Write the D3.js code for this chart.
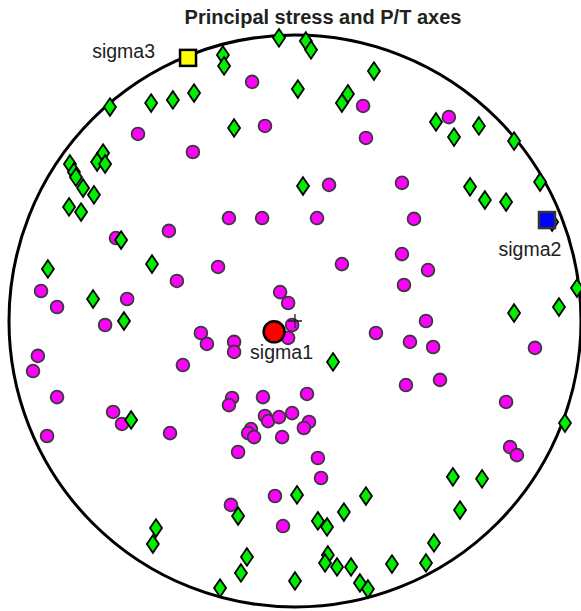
<!DOCTYPE html>
<html>
<head>
<meta charset="utf-8">
<script src="https://cdn.jsdelivr.net/npm/d3@7"></script>
<style>
  body { margin: 0; background: #fff; }
  text { font-family: "Liberation Sans", Arial, Helvetica, sans-serif; }
</style>
</head>
<body>
<div id="chart"></div>
<script>
// positions on the projection net, unit circle (x east, y north)
const pAxes = [
  [-0.150, 0.836], [-0.105, 0.682], [-0.549, 0.654], [-0.357, 0.591], [0.238, 0.752],
  [0.538, 0.713], [0.248, 0.640], [0.119, 0.476], [0.374, 0.483], [-0.231, 0.360],
  [-0.115, 0.360], [-0.441, 0.315], [-0.626, 0.290], [-0.269, 0.189], [-0.413, 0.140],
  [-0.052, 0.101], [-0.024, 0.063], [-0.888, 0.105], [-0.832, 0.049], [-0.587, 0.077],
  [-0.664, -0.014], [-0.329, -0.042], [-0.308, -0.080], [-0.213, -0.073], [-0.213, -0.108],
  [-0.010, -0.014], [-0.024, -0.059], [-0.899, -0.122], [-0.916, -0.175], [-0.392, -0.154],
  [-0.832, -0.266], [-0.220, -0.269], [-0.231, -0.294], [-0.112, -0.266], [-0.636, -0.318],
  [-0.605, -0.360], [-0.867, -0.402], [-0.437, -0.392], [0.077, 0.360], [0.416, 0.357],
  [0.164, 0.199], [0.374, 0.234], [0.465, 0.178], [0.381, 0.126], [0.458, 0.000],
  [0.283, -0.042], [0.402, -0.073], [0.483, -0.091], [0.839, -0.094], [0.388, -0.224],
  [0.507, -0.206], [0.042, -0.255], [0.738, -0.283], [-0.105, -0.332], [-0.094, -0.350],
  [-0.056, -0.336], [-0.010, -0.322], [0.049, -0.353], [0.031, -0.374], [-0.154, -0.378],
  [-0.164, -0.392], [-0.143, -0.406], [-0.045, -0.406], [-0.199, -0.458], [0.080, -0.479],
  [0.091, -0.549], [0.752, -0.441], [0.776, -0.469], [-0.070, -0.612], [-0.224, -0.643],
  [-0.042, -0.717]
];

const tAxes = [
  [-0.056, 0.990], [0.038, 0.979], [0.056, 0.948], [-0.252, 0.930], [-0.248, 0.892],
  [0.276, 0.874], [0.010, 0.811], [0.185, 0.794], [0.164, 0.762], [-0.647, 0.748],
  [-0.503, 0.762], [-0.427, 0.773], [-0.353, 0.797], [-0.213, 0.675], [0.493, 0.696],
  [0.556, 0.643], [0.643, 0.682], [0.766, 0.629], [0.857, 0.486], [0.028, 0.472],
  [0.612, 0.469], [0.664, 0.423], [0.738, 0.416], [-0.787, 0.549], [-0.773, 0.521],
  [-0.766, 0.503], [-0.741, 0.465], [-0.703, 0.441], [-0.790, 0.399], [-0.748, 0.381],
  [-0.671, 0.587], [-0.692, 0.556], [-0.664, 0.549], [-0.608, 0.283], [-0.500, 0.199],
  [-0.864, 0.182], [-0.706, 0.077], [-0.598, 0.000], [0.133, -0.143], [0.766, 0.028],
  [0.923, 0.049], [0.986, 0.115], [0.899, 0.346], [-0.573, -0.346], [0.944, -0.357],
  [0.552, -0.545], [0.654, -0.552], [0.577, -0.661], [0.007, -0.608], [0.248, -0.612],
  [0.171, -0.668], [-0.199, -0.682], [0.080, -0.699], [0.112, -0.720], [0.486, -0.776],
  [0.458, -0.846], [0.339, -0.850], [0.115, -0.818], [0.105, -0.846], [0.147, -0.860],
  [0.196, -0.860], [0.227, -0.916], [0.255, -0.937], [0.000, -0.909], [-0.486, -0.724],
  [-0.497, -0.780], [-0.168, -0.825], [-0.189, -0.881], [-0.262, -0.934]
];

const sigmaNames = ["sigma1", "sigma2", "sigma3"];
const sigmaPos = [[-0.073, -0.038], [0.881, 0.353], [-0.374, 0.920]];
const titleText = "Principal stress and P/T axes";

const W = 581, H = 611;
const cx = 295, cy = 321, R = 286;

const svg = d3.select("#chart").append("svg")
  .attr("width", W)
  .attr("height", H);

const x = d3.scaleLinear().domain([-1, 1]).range([cx - R, cx + R]);
const y = d3.scaleLinear().domain([-1, 1]).range([cy + R, cy - R]);

// primitive circle
svg.append("circle")
  .attr("cx", x(0)).attr("cy", y(0))
  .attr("r", x(1) - x(0))
  .attr("fill", "none")
  .attr("stroke", "#000")
  .attr("stroke-width", 3);

// P axes
svg.append("g").selectAll("circle")
  .data(pAxes)
  .join("circle")
  .attr("cx", d => x(d[0]))
  .attr("cy", d => y(d[1]))
  .attr("r", 6.4)
  .attr("fill", "#ff00ff")
  .attr("stroke", "#3a3a3a")
  .attr("stroke-width", 1.8);

// T axes, tall diamonds
const diamond = "M0,-8.8L6,0L0,8.8L-6,0Z";
svg.append("g").selectAll("path")
  .data(tAxes)
  .join("path")
  .attr("d", diamond)
  .attr("transform", d => `translate(${x(d[0])},${y(d[1])})`)
  .attr("fill", "#00ee00")
  .attr("stroke", "#000")
  .attr("stroke-width", 1.8);

// centre cross
const c0 = [x(0), y(0)];
svg.append("path")
  .attr("d", `M${c0[0] - 7},${c0[1]}H${c0[0] + 7}M${c0[0]},${c0[1] - 7}V${c0[1] + 7}`)
  .attr("stroke", "#222")
  .attr("stroke-width", 1.3)
  .attr("fill", "none");

// principal stresses
const s1 = sigmaPos[0], s2 = sigmaPos[1], s3 = sigmaPos[2];
svg.append("circle")
  .attr("cx", x(s1[0])).attr("cy", y(s1[1]))
  .attr("r", 10.5)
  .attr("fill", "#ff0000")
  .attr("stroke", "#000")
  .attr("stroke-width", 2.5);

svg.append("rect")
  .attr("x", x(s2[0]) - 8).attr("y", y(s2[1]) - 8)
  .attr("width", 16).attr("height", 16)
  .attr("fill", "#0000ff")
  .attr("stroke", "#333")
  .attr("stroke-width", 2.5);

svg.append("rect")
  .attr("x", x(s3[0]) - 8).attr("y", y(s3[1]) - 8)
  .attr("width", 16).attr("height", 16)
  .attr("fill", "#ffff00")
  .attr("stroke", "#000")
  .attr("stroke-width", 2.5);

// labels: [dx, dy, anchor]
const labelOffsets = [[-24, 27, "start"], [-17, 36, "middle"], [-33, 0, "end"]];
svg.append("g").selectAll("text")
  .data(sigmaNames)
  .join("text")
  .attr("x", (d, i) => x(sigmaPos[i][0]) + labelOffsets[i][0])
  .attr("y", (d, i) => y(sigmaPos[i][1]) + labelOffsets[i][1])
  .attr("text-anchor", (d, i) => labelOffsets[i][2])
  .attr("font-size", 19.5)
  .attr("fill", "#222")
  .text(d => d);

svg.append("text")
  .attr("x", 323)
  .attr("y", 24)
  .attr("text-anchor", "middle")
  .attr("font-size", 20)
  .attr("font-weight", "bold")
  .attr("fill", "#222")
  .text(titleText);
</script>
</body>
</html>
